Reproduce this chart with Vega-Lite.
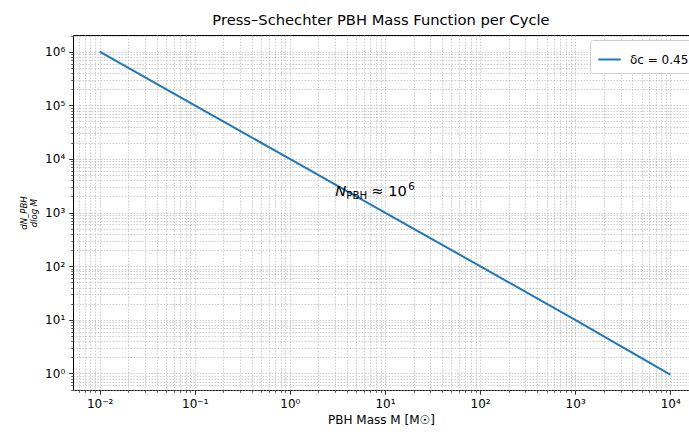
{
  "$schema": "https://vega.github.io/schema/vega-lite/v6.json",
  "width": 616,
  "height": 355,
  "autosize": "none",
  "padding": {"left": 73, "top": 35, "right": 0, "bottom": 45},
  "title": {"text": "Press–Schechter PBH Mass Function per Cycle", "fontSize": 14.7, "font": "DejaVu Sans", "fontWeight": "normal", "color": "#000", "anchor": "middle", "offset": 7},
  "config": {
    "view": {"stroke": "#000", "strokeWidth": 1},
    "font": "DejaVu Sans",
    "axis": {"labelFont": "DejaVu Sans", "titleFont": "DejaVu Sans", "labelColor": "#000", "titleColor": "#000", "titleFontWeight": "normal", "tickColor": "#000", "domainColor": "#000", "gridColor": "#b0b0b0", "gridDash": [1.5, 1.5], "gridWidth": 0.8, "gridOpacity": 0.8}
  },
  "datasets": {
    "series": [
      {"M": 0.01, "dN": 1000000, "s": "δc = 0.45"},
      {"M": 0.1, "dN": 100000, "s": "δc = 0.45"},
      {"M": 1, "dN": 10000, "s": "δc = 0.45"},
      {"M": 10, "dN": 1000, "s": "δc = 0.45"},
      {"M": 100, "dN": 100, "s": "δc = 0.45"},
      {"M": 1000, "dN": 10, "s": "δc = 0.45"},
      {"M": 10000, "dN": 0.95, "s": "δc = 0.45"}
    ],
    "note": [
      {"M": 3, "dN": 2000}
    ]
  },
  "resolve": {"axis": {"x": "independent", "y": "independent"}},
  "layer": [
    {
      "data": {"name": "series"},
      "mark": {"type": "line", "opacity": 0},
      "encoding": {
        "x": {"field": "M", "type": "quantitative", "scale": {"type": "log", "domain": [0.005248, 15740], "nice": false, "zero": false},
          "axis": {"orient": "bottom", "values": [0.006,0.007,0.008,0.009,0.02,0.03,0.04,0.05,0.06,0.07,0.08,0.09,0.2,0.3,0.4,0.5,0.6,0.7,0.8,0.9,2,3,4,5,6,7,8,9,20,30,40,50,60,70,80,90,200,300,400,500,600,700,800,900,2000,3000,4000,5000,6000,7000,8000,9000], "labels": false, "domain": false, "tickSize": 2.4, "tickWidth": 0.6, "grid": true, "title": null}},
        "y": {"field": "dN", "type": "quantitative", "scale": {"type": "log", "domain": [0.49, 2051000], "nice": false, "zero": false},
          "axis": {"orient": "left", "values": [0.5,0.6,0.7,0.8,0.9,2,3,4,5,6,7,8,9,20,30,40,50,60,70,80,90,200,300,400,500,600,700,800,900,2000,3000,4000,5000,6000,7000,8000,9000,20000,30000,40000,50000,60000,70000,80000,90000,200000,300000,400000,500000,600000,700000,800000,900000,2000000], "labels": false, "domain": false, "tickSize": 2.4, "tickWidth": 0.6, "grid": true, "title": null}}
      }
    },
    {
      "data": {"name": "series"},
      "mark": {"type": "line", "opacity": 0},
      "encoding": {
        "x": {"field": "M", "type": "quantitative", "scale": {"type": "log", "domain": [0.005248, 15740], "nice": false, "zero": false},
          "axis": {"orient": "bottom", "values": [0.01, 0.1, 1, 10, 100, 1000, 10000], "labelExpr": "datum.value == 0.01 ? '10⁻²' : datum.value == 0.1 ? '10⁻¹' : datum.value == 1 ? '10⁰' : datum.value == 10 ? '10¹' : datum.value == 100 ? '10²' : datum.value == 1000 ? '10³' : '10⁴'", "labelFontSize": 12, "labelPadding": 4, "tickSize": 4.3, "tickWidth": 0.8, "domain": false, "grid": true, "labelFlush": false, "title": "PBH Mass M [M☉]", "titleFontSize": 12, "titlePadding": 5}},
        "y": {"field": "dN", "type": "quantitative", "scale": {"type": "log", "domain": [0.49, 2051000], "nice": false, "zero": false},
          "axis": {"orient": "left", "values": [1, 10, 100, 1000, 10000, 100000, 1000000], "labelExpr": "datum.value == 1 ? '10⁰' : datum.value == 10 ? '10¹' : datum.value == 100 ? '10²' : datum.value == 1000 ? '10³' : datum.value == 10000 ? '10⁴' : datum.value == 100000 ? '10⁵' : '10⁶'", "labelFontSize": 12, "labelPadding": 4, "tickSize": 4.3, "tickWidth": 0.8, "domain": false, "grid": true, "labelFlush": false, "title": ["dN_PBH", "dlog M"], "titleFontSize": 8.5, "titleFontStyle": "italic", "titlePadding": 6, "titleLineHeight": 10}}
      }
    },
    {
      "data": {"name": "series"},
      "mark": {"type": "line", "strokeWidth": 2, "clip": true},
      "encoding": {
        "x": {"field": "M", "type": "quantitative", "scale": {"type": "log", "domain": [0.005248, 15740], "nice": false, "zero": false}, "axis": null},
        "y": {"field": "dN", "type": "quantitative", "scale": {"type": "log", "domain": [0.49, 2051000], "nice": false, "zero": false}, "axis": null},
        "color": {"field": "s", "type": "nominal", "scale": {"domain": ["δc = 0.45"], "range": ["#1f77b4"]},
          "legend": {"title": null, "orient": "none", "legendX": 517, "legendY": 5, "symbolType": "stroke", "symbolStrokeWidth": 2, "symbolSize": 500, "labelFontSize": 12, "labelFont": "DejaVu Sans", "labelColor": "#000", "fillColor": "#ffffff", "strokeColor": "#cccccc", "cornerRadius": 3, "padding": 7, "labelOffset": 8}}
      }
    },
    {
      "data": {"name": "note"},
      "layer": [
        {"mark": {"type": "text", "text": "N", "fontStyle": "italic", "fontSize": 14.7, "align": "left", "baseline": "alphabetic", "font": "DejaVu Sans", "color": "#000"}},
        {"mark": {"type": "text", "text": "PBH", "fontSize": 10.3, "align": "left", "baseline": "alphabetic", "dx": 11, "dy": 3, "font": "DejaVu Sans", "color": "#000"}},
        {"mark": {"type": "text", "text": "≈ 10", "fontSize": 14.7, "align": "left", "baseline": "alphabetic", "dx": 36, "font": "DejaVu Sans", "color": "#000"}},
        {"mark": {"type": "text", "text": "6", "fontSize": 10.3, "align": "left", "baseline": "alphabetic", "dx": 73, "dy": -6, "font": "DejaVu Sans", "color": "#000"}}
      ],
      "encoding": {
        "x": {"field": "M", "type": "quantitative", "scale": {"type": "log", "domain": [0.005248, 15740], "nice": false, "zero": false}, "axis": null},
        "y": {"field": "dN", "type": "quantitative", "scale": {"type": "log", "domain": [0.49, 2051000], "nice": false, "zero": false}, "axis": null}
      }
    }
  ]
}
